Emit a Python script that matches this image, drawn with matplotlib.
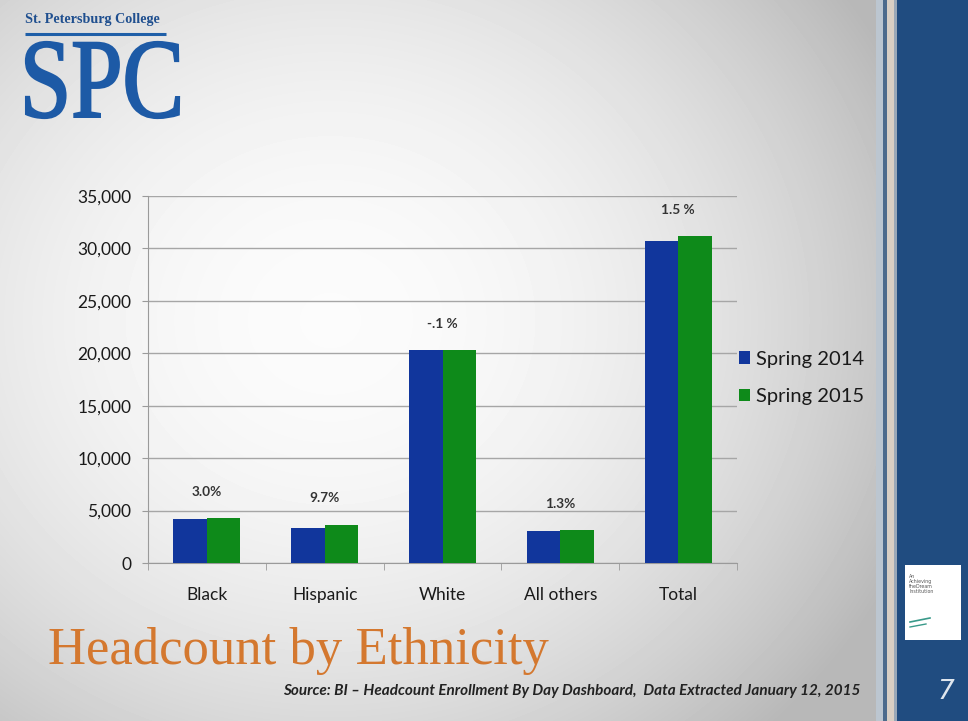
import numpy as np
import matplotlib
matplotlib.use("Agg")
import matplotlib.pyplot as plt
from matplotlib.textpath import TextPath
from matplotlib.patches import PathPatch, Rectangle
from matplotlib.font_manager import FontProperties
from matplotlib.transforms import Affine2D
from matplotlib.ticker import FuncFormatter

# Chart data
categories = ["Black", "Hispanic", "White", "All others", "Total"]
spring_2014 = [4170, 3340, 20300, 3055, 30750]
spring_2015 = [4300, 3640, 20290, 3100, 31150]
change_labels = ["3.0%", "9.7%", "-.1 %", "1.3%", "1.5 %"]
series_names = ["Spring 2014", "Spring 2015"]
y_ticks = [0, 5000, 10000, 15000, 20000, 25000, 30000, 35000]

W, H = 968, 721
fig = plt.figure(figsize=(W / 100, H / 100), dpi=100)

# Slide background: soft light-grey gradient
bg = fig.add_axes([0, 0, 1, 1], zorder=-10)
yy, xx = np.mgrid[0:H, 0:W]
r = np.sqrt(((xx - 330) / 600.0) ** 2 + ((yy - 320) / 540.0) ** 2)
shade = np.clip(0.985 - 0.24 * r ** 2, 0.72, 1.0)
bg.imshow(shade, cmap="gray", vmin=0, vmax=1, extent=[0, W, H, 0], aspect="auto")
bg.set_xlim(0, W)
bg.set_ylim(H, 0)
bg.axis("off")

# Right-hand stripes and blue panel
stripes = [(876, 7, "#bcc6d0"), (883, 4, "#4d6b8c"), (887, 7, "#d9cfc4"),
           (894, 3, "#9aa8b8"), (897, 71, "#204c80")]
for x0, w, c in stripes:
    bg.add_patch(Rectangle((x0, 0), w, H, color=c, lw=0))

# little institution badge
bg.add_patch(Rectangle((905, 565), 56, 75, color="white", lw=0))
bg.text(909, 574, "An\nAchieving\ntheDream\nInstitution", fontsize=3.4, color="#555555",
        va="top", ha="left", linespacing=1.0)
bg.plot([910, 930], [622, 618], color="#3a9a8a", lw=1.2)
bg.plot([910, 926], [627, 624], color="#3a9a8a", lw=1.0)
bg.text(946, 692, "7", fontsize=19, color="#dfe6ee", ha="center", va="center",
        family="DejaVu Sans", style="italic")

# SPC logo
bg.text(25, 20, "St. Petersburg College", fontsize=10.2, color="#1f4f8f",
        family="Liberation Serif", weight="bold", ha="left", va="center")
bg.plot([25, 166], [34, 34], color="#1f5fa8", lw=2.2, solid_capstyle="butt")
spc = TextPath((0, 0), "SPC", size=1, prop=FontProperties(family="Liberation Serif"))
ext = spc.get_extents()
sx = 153.0 / ext.width
sy = 76.0 / ext.height
tr = Affine2D().translate(-ext.x0, -ext.y0).scale(sx, -sy).translate(26, 118)
bg.add_patch(PathPatch(tr.transform_path(spc), facecolor="#1d5aa6",
                       edgecolor="#1d5aa6", lw=1.6))

# Title and source
fig.text(48 / W, 1 - 651 / H, "Headcount by Ethnicity", fontsize=38, color="#d4782f",
         family="Liberation Serif", ha="left", va="center")
fig.text(860 / W, 1 - 691 / H,
         "Source: BI \u2013 Headcount Enrollment By Day Dashboard,  Data Extracted January 12, 2015",
         fontsize=11, family="Lato", weight="bold", style="italic", color="#222222",
         ha="right", va="center")

# Bar chart
ax = fig.add_axes([148 / W, 1 - 563 / H, (737 - 148) / W, (563 - 196) / H])
ax.set_facecolor("none")
x = np.arange(len(categories))
bw = 0.285
ax.bar(x - bw / 2, spring_2014, bw, color="#11369c", label=series_names[0], zorder=3)
ax.bar(x + bw / 2, spring_2015, bw, color="#0e8a1a", label=series_names[1], zorder=3)

for i, lab in enumerate(change_labels):
    top = max(spring_2014[i], spring_2015[i])
    ax.annotate(lab, (x[i], top), xytext=(0, 19), textcoords="offset points",
                ha="center", va="center", fontsize=9.8, weight="bold",
                color="#333333", family="Lato")

ax.set_ylim(0, 35000)
ax.set_xlim(-0.5, len(categories) - 0.5)
ax.set_yticks(y_ticks)
ax.yaxis.set_major_formatter(FuncFormatter(lambda v, p: f"{int(v):,}"))
ax.set_xticks(x)
ax.set_xticklabels(categories)
ax.set_xticks(np.arange(-0.5, len(categories)), minor=True)
ax.tick_params(axis="x", which="major", length=0, pad=17)
ax.tick_params(axis="x", which="minor", length=5, color="#9a9a9a", direction="out")
ax.tick_params(axis="y", length=4, color="#9a9a9a", pad=8)
ax.tick_params(labelsize=12.5, labelcolor="#1a1a1a")
for lab in ax.get_xticklabels() + ax.get_yticklabels():
    lab.set_family("Lato")

ax.grid(axis="y", color="#a6a6a6", lw=1.0, zorder=0)
for s in ["top", "right"]:
    ax.spines[s].set_visible(False)
for s in ["left", "bottom"]:
    ax.spines[s].set_color("#9a9a9a")

leg = ax.legend(loc="center left", bbox_to_anchor=(0.99, 0.505), frameon=False,
                handlelength=0.55, handleheight=0.55, handletextpad=0.3,
                labelspacing=1.0, borderaxespad=0, prop={"family": "Lato", "size": 14.5})
for t in leg.get_texts():
    t.set_color("#1a1a1a")

fig.savefig("out.png", dpi=100)
